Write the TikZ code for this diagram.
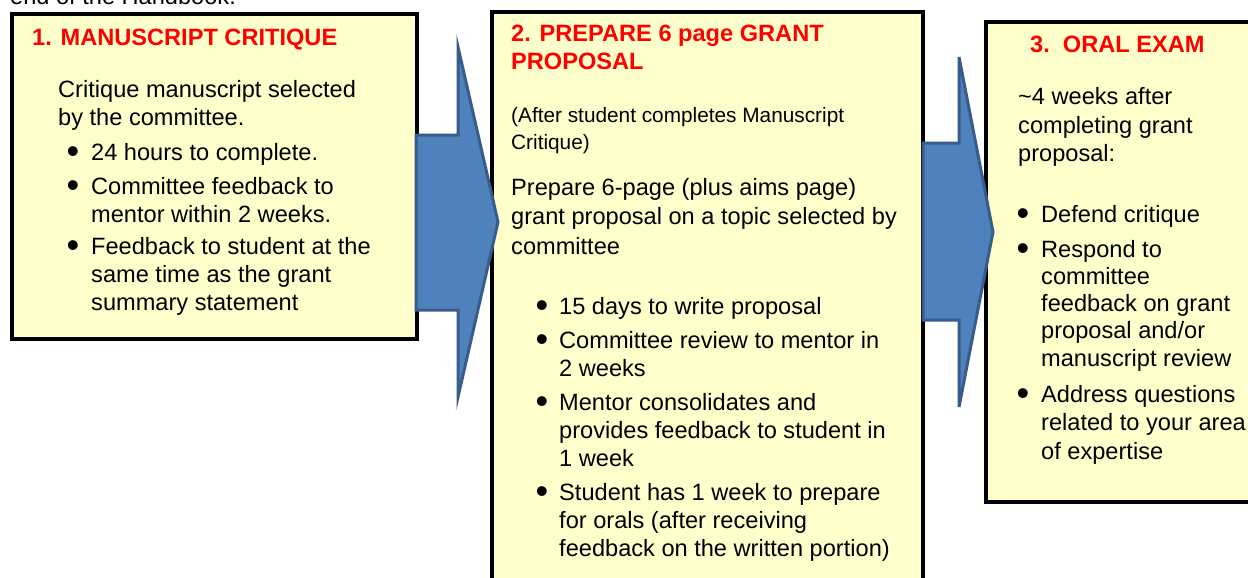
\documentclass[tikz,border=0pt]{standalone}
\usepackage{fontspec}
\setmainfont{Liberation Sans}
\definecolor{boxfill}{HTML}{FFFFCC}
\definecolor{arrfill}{HTML}{4F81BD}
\definecolor{arrline}{HTML}{385D8A}
\definecolor{titlered}{HTML}{FF0000}
\newcommand\mlines[1]{\vtop{\let\\\cr\halign{##\hfil\cr#1\crcr}}}
\tikzset{
  panel/.style={draw=black, line width=4pt, fill=boxfill},
  bigarrow/.style={draw=arrline, line width=3pt, fill=arrfill, line join=miter},
  txt/.style={anchor=base west, inner sep=0pt, font=\fontsize{23.6}{28.3}\selectfont},
  ttl/.style={txt, text=titlered, font=\fontsize{23.6}{28}\selectfont\bfseries},
  small/.style={txt, font=\fontsize{20.8}{27}\selectfont},
  bul/.style={anchor=base, inner sep=0pt, yshift=-3pt, font=\fontsize{36}{36}\selectfont},
}
\begin{document}
\begin{tikzpicture}[x=1pt,y=-1pt]
\clip (0,0) rectangle (1248,578);
\useasboundingbox (0,0) rectangle (1248,578);
\fill[white] (0,0) rectangle (1248,578);
% cut-off text on top
\node[txt] (top) at (10,5) {end of the Handbook.};
% panels
\node[panel, anchor=north west, minimum width=405pt, minimum height=324.5pt, inner sep=0pt] (b1) at (9.5,12) {};
\node[panel, anchor=north west, minimum width=431pt, minimum height=600pt, inner sep=0pt] (b2) at (489.5,10) {};
\node[panel, anchor=north west, minimum width=300pt, minimum height=480pt, inner sep=0pt] (b3) at (983.5,20) {};
% arrows
\draw[bigarrow] (416,135) -- (458,135) -- (458,47) -- (498,222) -- (458,397) -- (458,310) -- (416,310) -- cycle;
\draw[bigarrow] (923,143) -- (959,143) -- (959,57) -- (993,232) -- (959,407) -- (959,320) -- (923,320) -- cycle;
% box 1
\node[ttl] (t1) at (32,46) {1. MANUSCRIPT CRITIQUE};
\node[txt] (p1) at (58,97) {\mlines{Critique manuscript selected\\by the committee.}};
\node[bul] (i1b) at (73,160) {•};
\node[txt] (i1) at (91,160) {24 hours to complete.};
\node[bul] (i2b) at (73,194) {•};
\node[txt] (i2) at (91,194) {\mlines{Committee feedback to\\mentor within 2 weeks.}};
\node[bul] (i3b) at (73,254) {•};
\node[txt] (i3) at (91,254) {\mlines{Feedback to student at the\\same time as the grant\\summary statement}};
% box 2
\node[ttl] (t2) at (511,42) {\mlines{2. PREPARE 6 page GRANT\\PROPOSAL}};
\node[small] (s2) at (511,122) {\mlines{(After student completes Manuscript\\Critique)}};
\node[txt, font=\fontsize{23.6}{29.5}\selectfont] (p2) at (511,195) {\mlines{Prepare 6-page (plus aims page)\\grant proposal on a topic selected by\\committee}};
\node[bul] (j1b) at (542,314) {•};
\node[txt] (j1) at (559,314) {15 days to write proposal};
\node[bul] (j2b) at (542,348) {•};
\node[txt] (j2) at (559,348) {\mlines{Committee review to mentor in\\2 weeks}};
\node[bul] (j3b) at (542,410) {•};
\node[txt] (j3) at (559,410) {\mlines{Mentor consolidates and\\provides feedback to student in\\1 week}};
\node[bul] (j4b) at (542,500) {•};
\node[txt] (j4) at (559,500) {\mlines{Student has 1 week to prepare\\for orals (after receiving\\feedback on the written portion)}};
% box 3
\node[ttl] (t3) at (1030,53) {3.\ \ ORAL EXAM};
\node[txt, font=\fontsize{23.6}{29}\selectfont] (p3) at (1018,104) {\mlines{\textasciitilde 4 weeks after\\completing grant\\proposal:}};
\node[bul] (k1b) at (1023,222) {•};
\node[txt] (k1) at (1041,222) {Defend critique};
\node[bul] (k2b) at (1023,257) {•};
\node[txt, font=\fontsize{23.6}{27.3}\selectfont] (k2) at (1041,257) {\mlines{Respond to\\committee\\feedback on grant\\proposal and/or\\manuscript review}};
\node[bul] (k3b) at (1023,402) {•};
\node[txt, font=\fontsize{23.6}{28.5}\selectfont] (k3) at (1041,402) {\mlines{Address questions\\related to your area\\of expertise}};
\end{tikzpicture}
\end{document}
